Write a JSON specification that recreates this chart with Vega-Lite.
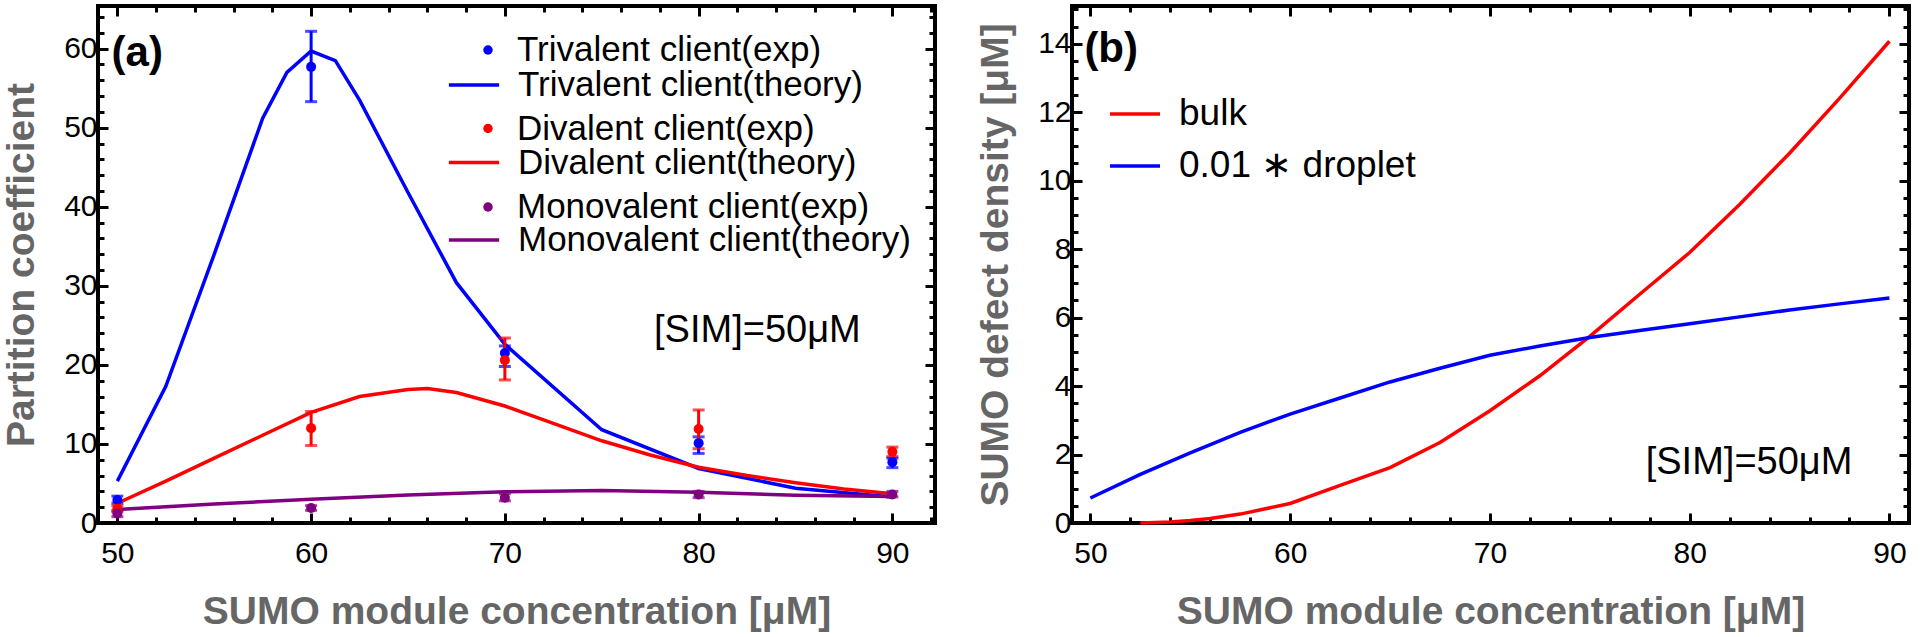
{
  "$schema": "https://vega.github.io/schema/vega-lite/v6.json",
  "background": "white",
  "padding": {"left": 0, "top": 2, "right": 4, "bottom": 0},
  "bounds": "flush",
  "spacing": 137,
  "resolve": {"scale": {"color": "independent", "stroke": "independent"}, "legend": {"color": "independent", "stroke": "independent"}},
  "config": {
    "view": {"stroke": "black", "strokeWidth": 4},
    "axis": {"domain": false, "grid": false, "tickColor": "black", "tickWidth": 3, "labelFont": "Liberation Sans", "labelFontSize": 30, "labelColor": "black", "titleFont": "Liberation Sans", "titleFontSize": 39, "titleFontWeight": "bold", "titleColor": "#666666"},
    "legend": {"labelFont": "Liberation Sans", "labelColor": "black", "symbolOpacity": 1},
    "text": {"font": "Liberation Sans", "color": "black"}
  },
  "datasets": {
    "theoryA": [
      {"series": "Trivalent client(theory)", "x": 50, "y": 5.3},
      {"series": "Trivalent client(theory)", "x": 52.5, "y": 17.3},
      {"series": "Trivalent client(theory)", "x": 55, "y": 34.0},
      {"series": "Trivalent client(theory)", "x": 57.5, "y": 51.2},
      {"series": "Trivalent client(theory)", "x": 58.75, "y": 57.0},
      {"series": "Trivalent client(theory)", "x": 60, "y": 59.7},
      {"series": "Trivalent client(theory)", "x": 61.25, "y": 58.5},
      {"series": "Trivalent client(theory)", "x": 62.5, "y": 53.5},
      {"series": "Trivalent client(theory)", "x": 65, "y": 41.8},
      {"series": "Trivalent client(theory)", "x": 67.5, "y": 30.4},
      {"series": "Trivalent client(theory)", "x": 70, "y": 22.6},
      {"series": "Trivalent client(theory)", "x": 75, "y": 11.8},
      {"series": "Trivalent client(theory)", "x": 80, "y": 6.9},
      {"series": "Trivalent client(theory)", "x": 85, "y": 4.4},
      {"series": "Trivalent client(theory)", "x": 90, "y": 3.3},
      {"series": "Divalent client(theory)", "x": 50, "y": 2.5},
      {"series": "Divalent client(theory)", "x": 52.5, "y": 5.3},
      {"series": "Divalent client(theory)", "x": 55, "y": 8.2},
      {"series": "Divalent client(theory)", "x": 57.5, "y": 11.1},
      {"series": "Divalent client(theory)", "x": 60, "y": 14.0},
      {"series": "Divalent client(theory)", "x": 62.5, "y": 16.0},
      {"series": "Divalent client(theory)", "x": 65, "y": 16.9},
      {"series": "Divalent client(theory)", "x": 66, "y": 17.0},
      {"series": "Divalent client(theory)", "x": 67.5, "y": 16.5},
      {"series": "Divalent client(theory)", "x": 70, "y": 14.8},
      {"series": "Divalent client(theory)", "x": 72.5, "y": 12.6},
      {"series": "Divalent client(theory)", "x": 75, "y": 10.4},
      {"series": "Divalent client(theory)", "x": 77.5, "y": 8.6},
      {"series": "Divalent client(theory)", "x": 80, "y": 7.05},
      {"series": "Divalent client(theory)", "x": 82.5, "y": 6.0},
      {"series": "Divalent client(theory)", "x": 85, "y": 5.1},
      {"series": "Divalent client(theory)", "x": 87.5, "y": 4.3},
      {"series": "Divalent client(theory)", "x": 90, "y": 3.7},
      {"series": "Monovalent client(theory)", "x": 50, "y": 1.7},
      {"series": "Monovalent client(theory)", "x": 55, "y": 2.4},
      {"series": "Monovalent client(theory)", "x": 60, "y": 3.0},
      {"series": "Monovalent client(theory)", "x": 65, "y": 3.55},
      {"series": "Monovalent client(theory)", "x": 70, "y": 3.95},
      {"series": "Monovalent client(theory)", "x": 75, "y": 4.1},
      {"series": "Monovalent client(theory)", "x": 80, "y": 3.9},
      {"series": "Monovalent client(theory)", "x": 85, "y": 3.5},
      {"series": "Monovalent client(theory)", "x": 90, "y": 3.35}
    ],
    "expA": [
      {"series": "Trivalent client(exp)", "x": 50, "y": 2.9, "lo": 2.5, "hi": 3.4},
      {"series": "Trivalent client(exp)", "x": 60, "y": 57.7, "lo": 53.3, "hi": 62.2},
      {"series": "Trivalent client(exp)", "x": 70, "y": 21.5, "lo": 19.8, "hi": 22.4},
      {"series": "Trivalent client(exp)", "x": 80, "y": 10.1, "lo": 8.8, "hi": 10.9},
      {"series": "Trivalent client(exp)", "x": 90, "y": 7.7, "lo": 7.0, "hi": 8.2},
      {"series": "Divalent client(exp)", "x": 50, "y": 1.8, "lo": 1.4, "hi": 2.2},
      {"series": "Divalent client(exp)", "x": 60, "y": 12.0, "lo": 9.8, "hi": 14.1},
      {"series": "Divalent client(exp)", "x": 70, "y": 20.6, "lo": 18.1, "hi": 23.4},
      {"series": "Divalent client(exp)", "x": 80, "y": 11.9, "lo": 9.4, "hi": 14.3},
      {"series": "Divalent client(exp)", "x": 90, "y": 9.0, "lo": 8.4, "hi": 9.6},
      {"series": "Monovalent client(exp)", "x": 50, "y": 1.2, "lo": 0.8, "hi": 1.6},
      {"series": "Monovalent client(exp)", "x": 60, "y": 1.9, "lo": 1.6, "hi": 2.2},
      {"series": "Monovalent client(exp)", "x": 70, "y": 3.2, "lo": 2.8, "hi": 3.7},
      {"series": "Monovalent client(exp)", "x": 80, "y": 3.6, "lo": 3.2, "hi": 4.0},
      {"series": "Monovalent client(exp)", "x": 90, "y": 3.6, "lo": 3.3, "hi": 4.0}
    ],
    "bulkB": [
      {"series": "bulk", "x": 52.5, "y": 0},
      {"series": "bulk", "x": 54, "y": 0.03},
      {"series": "bulk", "x": 55, "y": 0.07},
      {"series": "bulk", "x": 56, "y": 0.13},
      {"series": "bulk", "x": 57.5, "y": 0.26},
      {"series": "bulk", "x": 60, "y": 0.57},
      {"series": "bulk", "x": 62.5, "y": 1.1},
      {"series": "bulk", "x": 65, "y": 1.62},
      {"series": "bulk", "x": 67.5, "y": 2.35},
      {"series": "bulk", "x": 70, "y": 3.28},
      {"series": "bulk", "x": 72.5, "y": 4.3},
      {"series": "bulk", "x": 75, "y": 5.45},
      {"series": "bulk", "x": 77.5, "y": 6.68},
      {"series": "bulk", "x": 80, "y": 7.9},
      {"series": "bulk", "x": 82.5, "y": 9.3},
      {"series": "bulk", "x": 85, "y": 10.8},
      {"series": "bulk", "x": 87.5, "y": 12.4},
      {"series": "bulk", "x": 90, "y": 14.07}
    ],
    "dropletB": [
      {"series": "0.01 ∗ droplet", "x": 50, "y": 0.73},
      {"series": "0.01 ∗ droplet", "x": 52.5, "y": 1.42},
      {"series": "0.01 ∗ droplet", "x": 55, "y": 2.05},
      {"series": "0.01 ∗ droplet", "x": 57.5, "y": 2.65},
      {"series": "0.01 ∗ droplet", "x": 60, "y": 3.18},
      {"series": "0.01 ∗ droplet", "x": 62.5, "y": 3.65},
      {"series": "0.01 ∗ droplet", "x": 65, "y": 4.12},
      {"series": "0.01 ∗ droplet", "x": 67.5, "y": 4.52},
      {"series": "0.01 ∗ droplet", "x": 70, "y": 4.9},
      {"series": "0.01 ∗ droplet", "x": 72.5, "y": 5.17},
      {"series": "0.01 ∗ droplet", "x": 75, "y": 5.42},
      {"series": "0.01 ∗ droplet", "x": 77.5, "y": 5.62},
      {"series": "0.01 ∗ droplet", "x": 80, "y": 5.82},
      {"series": "0.01 ∗ droplet", "x": 82.5, "y": 6.02},
      {"series": "0.01 ∗ droplet", "x": 85, "y": 6.22},
      {"series": "0.01 ∗ droplet", "x": 87.5, "y": 6.4},
      {"series": "0.01 ∗ droplet", "x": 90, "y": 6.57}
    ]
  },
  "hconcat": [
    {
      "width": 837,
      "height": 517,
      "resolve": {"axis": {"x": "independent", "y": "independent"}},
      "layer": [
        {
          "data": {"name": "theoryA"},
          "mark": {"type": "line", "strokeWidth": 3.5},
          "encoding": {
            "x": {"field": "x", "type": "quantitative", "scale": {"domain": [49.0, 92.2], "nice": false, "zero": false},
              "axis": {"orient": "bottom", "values": [50, 60, 70, 80, 90], "tickSize": -10, "labelPadding": 25, "title": "SUMO module concentration [μM]", "titlePadding": 24}},
            "y": {"field": "y", "type": "quantitative", "scale": {"domain": [0, 65.4], "nice": false, "zero": false},
              "axis": {"orient": "left", "values": [0, 10, 20, 30, 40, 50, 60], "tickSize": -10, "labelPadding": 11, "title": "Partition coefficient", "titlePadding": 22}},
            "stroke": {"field": "series", "type": "nominal",
              "scale": {"domain": ["Trivalent client(theory)", "Divalent client(theory)", "Monovalent client(theory)"], "range": ["#0000ff", "#ff0000", "#800080"]},
              "legend": {"title": null, "orient": "none", "legendX": 357.5, "legendY": 60.5, "labelFontSize": 35, "labelOffset": 25.5, "symbolType": "M-1.5,0H1.5", "symbolSize": 1122, "symbolStrokeWidth": 3.5, "rowPadding": 40.5, "labelLimit": 1000, "padding": 0}
            }
          }
        },
        {
          "data": {"name": "expA"},
          "mark": {"type": "errorbar", "thickness": 3, "ticks": {"size": 12, "thickness": 3}},
          "encoding": {
            "x": {"field": "x", "type": "quantitative", "scale": {"domain": [49.0, 92.2], "nice": false, "zero": false}, "axis": null},
            "y": {"field": "lo", "type": "quantitative", "scale": {"domain": [0, 65.4], "nice": false, "zero": false}, "axis": null},
            "y2": {"field": "hi"},
            "color": {"field": "series", "type": "nominal",
              "scale": {"domain": ["Trivalent client(exp)", "Divalent client(exp)", "Monovalent client(exp)"], "range": ["#0000ff", "#ff0000", "#800080"]},
              "legend": {"title": null, "orient": "none", "legendX": 372.5, "legendY": 26.5, "labelFontSize": 35, "labelOffset": 11.5, "symbolType": "circle", "symbolSize": 90, "symbolStrokeWidth": 0, "symbolOpacity": 1, "rowPadding": 42.5, "labelLimit": 1000, "padding": 0}
            }
          }
        },
        {
          "data": {"name": "expA"},
          "mark": {"type": "point", "filled": true, "size": 100, "opacity": 1},
          "encoding": {
            "x": {"field": "x", "type": "quantitative", "scale": {"domain": [49.0, 92.2], "nice": false, "zero": false},
              "axis": {"orient": "top", "values": [50, 60, 70, 80, 90], "tickSize": -10, "labels": false, "title": null}},
            "y": {"field": "y", "type": "quantitative", "scale": {"domain": [0, 65.4], "nice": false, "zero": false},
              "axis": {"orient": "right", "values": [0, 10, 20, 30, 40, 50, 60], "tickSize": -10, "labels": false, "title": null}},
            "color": {"field": "series", "type": "nominal",
              "scale": {"domain": ["Trivalent client(exp)", "Divalent client(exp)", "Monovalent client(exp)"], "range": ["#0000ff", "#ff0000", "#800080"]},
              "legend": {"title": null, "orient": "none", "legendX": 372.5, "legendY": 26.5, "labelFontSize": 35, "labelOffset": 11.5, "symbolType": "circle", "symbolSize": 90, "symbolStrokeWidth": 0, "symbolOpacity": 1, "rowPadding": 42.5, "labelLimit": 1000, "padding": 0}
            }
          }
        },
        {
          "data": {"values": [{"label": "(a)", "x": 49.7, "y": 59.5}]},
          "mark": {"type": "text", "fontSize": 42, "fontWeight": "bold", "align": "left", "baseline": "middle"},
          "encoding": {
            "x": {"field": "x", "type": "quantitative", "scale": {"domain": [49.0, 92.2], "nice": false, "zero": false},
              "axis": {"orient": "bottom", "values": [50, 52, 54, 56, 58, 60, 62, 64, 66, 68, 70, 72, 74, 76, 78, 80, 82, 84, 86, 88, 90, 92], "tickSize": -6, "labels": false, "title": null}},
            "y": {"field": "y", "type": "quantitative", "scale": {"domain": [0, 65.4], "nice": false, "zero": false},
              "axis": {"orient": "left", "values": [0, 2, 4, 6, 8, 10, 12, 14, 16, 18, 20, 22, 24, 26, 28, 30, 32, 34, 36, 38, 40, 42, 44, 46, 48, 50, 52, 54, 56, 58, 60, 62, 64], "tickSize": -6, "labels": false, "title": null}},
            "text": {"field": "label"}
          }
        },
        {
          "data": {"values": [{"label": "[SIM]=50μM", "x": 77.7, "y": 24.3}]},
          "mark": {"type": "text", "fontSize": 38, "align": "left", "baseline": "middle"},
          "encoding": {
            "x": {"field": "x", "type": "quantitative", "scale": {"domain": [49.0, 92.2], "nice": false, "zero": false},
              "axis": {"orient": "top", "values": [50, 52, 54, 56, 58, 60, 62, 64, 66, 68, 70, 72, 74, 76, 78, 80, 82, 84, 86, 88, 90, 92], "tickSize": -6, "labels": false, "title": null}},
            "y": {"field": "y", "type": "quantitative", "scale": {"domain": [0, 65.4], "nice": false, "zero": false},
              "axis": {"orient": "right", "values": [0, 2, 4, 6, 8, 10, 12, 14, 16, 18, 20, 22, 24, 26, 28, 30, 32, 34, 36, 38, 40, 42, 44, 46, 48, 50, 52, 54, 56, 58, 60, 62, 64], "tickSize": -6, "labels": false, "title": null}},
            "text": {"field": "label"}
          }
        }
      ]
    },
    {
      "width": 837,
      "height": 517,
      "resolve": {"axis": {"x": "independent", "y": "independent"}},
      "layer": [
        {
          "data": {"name": "bulkB"},
          "mark": {"type": "line", "strokeWidth": 3.5},
          "encoding": {
            "x": {"field": "x", "type": "quantitative", "scale": {"domain": [49.08, 90.98], "nice": false, "zero": false},
              "axis": {"orient": "bottom", "values": [50, 60, 70, 80, 90], "tickSize": -10, "labelPadding": 25, "title": "SUMO module concentration [μM]", "titlePadding": 24}},
            "y": {"field": "y", "type": "quantitative", "scale": {"domain": [0, 15.1], "nice": false, "zero": false},
              "axis": {"orient": "left", "values": [0, 2, 4, 6, 8, 10, 12, 14], "tickSize": -10, "labelPadding": 11, "title": "SUMO defect density [μM]", "titlePadding": 22}},
            "color": {"field": "series", "type": "nominal",
              "scale": {"domain": ["bulk", "0.01 ∗ droplet"], "range": ["#ff0000", "#0000ff"]},
              "legend": {"title": null, "orient": "none", "legendX": 38, "legendY": 83, "labelFontSize": 37, "labelOffset": 19, "symbolSize": 2162, "symbolStrokeWidth": 3.5, "symbolType": "M-1.075,0H1.075", "rowPadding": 9, "labelLimit": 1000, "padding": 0,
                "labelExpr": "datum.value == 'bulk' ? 'bulk' : '\u00a0' + datum.value",
                "encode": {"symbols": {"update": {"size": {"value": 2162}, "strokeWidth": {"value": 3.5}, "opacity": {"value": 1}}}}}
            }
          }
        },
        {
          "data": {"name": "dropletB"},
          "mark": {"type": "line", "strokeWidth": 3.5},
          "encoding": {
            "x": {"field": "x", "type": "quantitative", "scale": {"domain": [49.08, 90.98], "nice": false, "zero": false},
              "axis": {"orient": "top", "values": [50, 60, 70, 80, 90], "tickSize": -10, "labels": false, "title": null}},
            "y": {"field": "y", "type": "quantitative", "scale": {"domain": [0, 15.1], "nice": false, "zero": false},
              "axis": {"orient": "right", "values": [0, 2, 4, 6, 8, 10, 12, 14], "tickSize": -10, "labels": false, "title": null}},
            "color": {"field": "series", "type": "nominal",
              "legend": {"title": null, "orient": "none", "legendX": 38, "legendY": 83, "labelFontSize": 37, "labelOffset": 19, "symbolSize": 2162, "symbolStrokeWidth": 3.5, "symbolType": "M-1.075,0H1.075", "rowPadding": 9, "labelLimit": 1000, "padding": 0,
                "labelExpr": "datum.value == 'bulk' ? 'bulk' : '\u00a0' + datum.value",
                "encode": {"symbols": {"update": {"size": {"value": 2162}, "strokeWidth": {"value": 3.5}, "opacity": {"value": 1}}}}}
            }
          }
        },
        {
          "data": {"values": [{"label": "(b)", "x": 49.7, "y": 13.83}]},
          "mark": {"type": "text", "fontSize": 42, "fontWeight": "bold", "align": "left", "baseline": "middle"},
          "encoding": {
            "x": {"field": "x", "type": "quantitative", "scale": {"domain": [49.08, 90.98], "nice": false, "zero": false},
              "axis": {"orient": "bottom", "values": [50, 52, 54, 56, 58, 60, 62, 64, 66, 68, 70, 72, 74, 76, 78, 80, 82, 84, 86, 88, 90], "tickSize": -6, "labels": false, "title": null}},
            "y": {"field": "y", "type": "quantitative", "scale": {"domain": [0, 15.1], "nice": false, "zero": false},
              "axis": {"orient": "left", "values": [0, 0.5, 1, 1.5, 2, 2.5, 3, 3.5, 4, 4.5, 5, 5.5, 6, 6.5, 7, 7.5, 8, 8.5, 9, 9.5, 10, 10.5, 11, 11.5, 12, 12.5, 13, 13.5, 14, 14.5, 15], "tickSize": -6, "labels": false, "title": null}},
            "text": {"field": "label"}
          }
        },
        {
          "data": {"values": [{"label": "[SIM]=50μM", "x": 77.8, "y": 1.75}]},
          "mark": {"type": "text", "fontSize": 38, "align": "left", "baseline": "middle"},
          "encoding": {
            "x": {"field": "x", "type": "quantitative", "scale": {"domain": [49.08, 90.98], "nice": false, "zero": false},
              "axis": {"orient": "top", "values": [50, 52, 54, 56, 58, 60, 62, 64, 66, 68, 70, 72, 74, 76, 78, 80, 82, 84, 86, 88, 90], "tickSize": -6, "labels": false, "title": null}},
            "y": {"field": "y", "type": "quantitative", "scale": {"domain": [0, 15.1], "nice": false, "zero": false},
              "axis": {"orient": "right", "values": [0, 0.5, 1, 1.5, 2, 2.5, 3, 3.5, 4, 4.5, 5, 5.5, 6, 6.5, 7, 7.5, 8, 8.5, 9, 9.5, 10, 10.5, 11, 11.5, 12, 12.5, 13, 13.5, 14, 14.5, 15], "tickSize": -6, "labels": false, "title": null}},
            "text": {"field": "label"}
          }
        }
      ]
    }
  ]
}
